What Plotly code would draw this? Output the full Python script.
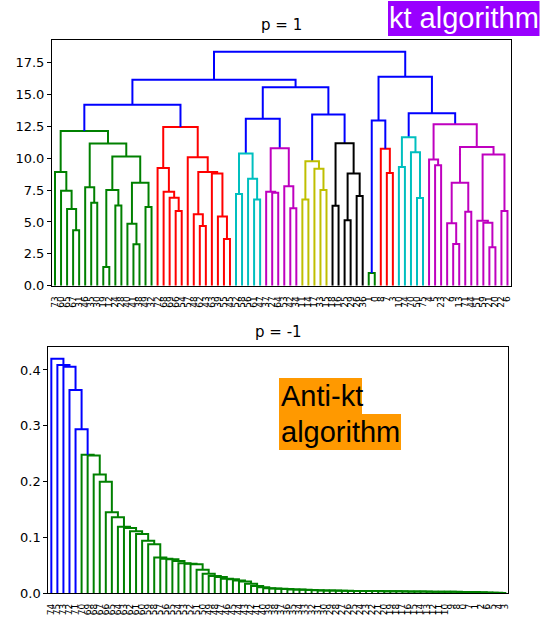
import plotly.graph_objects as go

# ---------------------------------------------------------------------------
# p = 1 (kt) clustering.  A merge is (height, left, right); a leaf is a particle id.
# ---------------------------------------------------------------------------
green_tree = (12.13,
              (8.93, 73, (7.45, 60, (6.02, 65, (4.35, 67, 31)))),
              (11.15, (7.73, 46, (6.51, 35, 30)),
               (10.13, (7.5, (1.46, 19, 12), (6.3, 24, 28)),
                (8.07, (4.87, 40, (3.26, 41, 38)), (6.17, 49, 32)))))
red_tree = (12.45,
            (9.24, 72, (7.37, 68, (6.9, 69, (5.86, 66, 54)))),
            (10.08, 57, (8.93, (5.6, 48, (4.69, 62, 43)),
                         (8.8, 63, (5.42, 39, (3.67, 55, 45))))))
cyan_tree = (10.37, (7.19, 52, 58), (8.39, 56, (6.77, 61, 47)))
magenta_tree = (10.78, (7.37, 37, (7.3, 27, 64)), (7.81, 53, (6.07, 42, 34)))
yellow_tree = (9.77, (6.77, 11, 14), (9.17, 17, (7.5, 33, 15)))
black_tree = (11.17, (6.28, 18, 16), (8.8, (5.13, 25, 29), (7.03, 26, 36)))
green_pair = (0.99, 1, 0)
red_tree_2 = (10.75, 8, (8.85, 7, 3))
cyan_tree_2 = (11.64, (9.32, 10, 74), (10.47, 70, (6.88, 50, 75)))
magenta_tree_2 = (12.66, (9.9, 4, (9.45, 5, 23)),
                  (10.88, (8.07, (4.9, 2, (3.28, 9, 13)), (5.8, 71, 44)),
                   (10.29, (5.1, 51, (4.94, 59, (3.02, 21, 20))), (5.86, 22, 6))))

# flat clusters and their link colours
kt_clusters = {
    "g1": (green_tree, "#008000"),
    "r1": (red_tree, "#ff0000"),
    "c1": (cyan_tree, "#00bfbf"),
    "m1": (magenta_tree, "#bf00bf"),
    "y1": (yellow_tree, "#bfbf00"),
    "k1": (black_tree, "#000000"),
    "g2": (green_pair, "#008000"),
    "r2": (red_tree_2, "#ff0000"),
    "c2": (cyan_tree_2, "#00bfbf"),
    "m2": (magenta_tree_2, "#bf00bf"),
}
# merges above the colour threshold
kt_upper = (18.36,
            (16.15, (14.2, "g1", "r1"), (15.57, (13.1, "c1", "m1"), (13.44, "y1", "k1"))),
            (16.4, (12.97, "g2", "r2"), (13.54, "c2", "m2")))
KT_YTICKS = [0.0, 2.5, 5.0, 7.5, 10.0, 12.5, 15.0, 17.5]

# ---------------------------------------------------------------------------
# p = -1 (anti-kt) clustering: one long chain, leaf i joins everything to its right
# ---------------------------------------------------------------------------
antikt_labels = [74, 75, 73, 72, 71, 70, 69, 68, 67, 66, 65, 64, 63, 62, 61, 60, 59, 58,
                 57, 56, 55, 54, 53, 52, 51, 50, 49, 48, 47, 46, 45, 44, 43, 42, 41, 40,
                 39, 38, 37, 36, 35, 34, 33, 32, 31, 30, 29, 28, 27, 26, 25, 24, 23, 22,
                 21, 20, 19, 18, 17, 16, 15, 14, 13, 12, 11, 10, 9, 8, 0, 7, 1, 2, 6, 5, 4, 3]
antikt_heights = [0.420, 0.409, 0.406, 0.364, 0.294, 0.248, 0.247, 0.213, 0.200, 0.145,
                  0.136, 0.119, 0.117, 0.111, 0.106, 0.094, 0.088, 0.064, 0.062, 0.061,
                  0.058, 0.054, 0.053, 0.052, 0.042, 0.035, 0.031, 0.029, 0.026, 0.025,
                  0.023, 0.021, 0.017, 0.013, 0.011, 0.009, 0.0085, 0.0080, 0.0075, 0.0070,
                  0.0066, 0.0062, 0.0058, 0.0055, 0.0052, 0.0050, 0.0048, 0.0046, 0.0045,
                  0.0043, 0.0042, 0.0041, 0.0040, 0.0039, 0.0038, 0.0037, 0.0036, 0.0035,
                  0.0034, 0.0033, 0.0032, 0.0031, 0.0030, 0.0029, 0.0028, 0.0027, 0.0026,
                  0.0025, 0.0024, 0.0022, 0.0020, 0.0016, 0.0012, 0.0008, 0.0004]
ANTIKT_THRESHOLD = 0.28
ANTIKT_YTICKS = [0.0, 0.1, 0.2, 0.3, 0.4]

ABOVE_COLOR = "#0000ff"
LINE_W = 2


def layout_tree(node, color, leaves, segs, clusters=None):
    """Place a merge tree scipy-style: leaves at 5, 15, 25, ... and each merge
    centred over its children.  Returns (x, height)."""
    if isinstance(node, str):
        sub, col = clusters[node]
        return layout_tree(sub, col, leaves, segs, clusters)
    if not isinstance(node, tuple):
        leaves.append(node)
        return 5 + 10 * (len(leaves) - 1), 0.0
    h, left, right = node
    xl, hl = layout_tree(left, color, leaves, segs, clusters)
    xr, hr = layout_tree(right, color, leaves, segs, clusters)
    segs.setdefault(color, []).append(([xl, xl, xr, xr], [hl, h, h, hr]))
    return (xl + xr) / 2, h


def add_links(fig, segs, xa, ya):
    for color, items in segs.items():
        xs, ys = [], []
        for sx, sy in items:
            xs += sx + [None]
            ys += sy + [None]
        fig.add_trace(go.Scatter(x=xs, y=ys, mode="lines", xaxis=xa, yaxis=ya,
                                 line=dict(color=color, width=LINE_W),
                                 hoverinfo="skip", showlegend=False))


fig = go.Figure()

# kt dendrogram
kt_leaves, kt_segs = [], {}
layout_tree(kt_upper, ABOVE_COLOR, kt_leaves, kt_segs, kt_clusters)
add_links(fig, kt_segs, "x", "y")

# anti-kt dendrogram (chain built from the merge heights)
chain = (antikt_heights[-1], antikt_labels[-2], antikt_labels[-1])
for i in range(len(antikt_heights) - 2, -1, -1):
    chain = (antikt_heights[i], antikt_labels[i], chain)


def layout_chain(node, leaves, segs):
    if not isinstance(node, tuple):
        leaves.append(node)
        return 5 + 10 * (len(leaves) - 1), 0.0
    h, left, right = node
    xl, hl = layout_chain(left, leaves, segs)
    xr, hr = layout_chain(right, leaves, segs)
    col = ABOVE_COLOR if h >= ANTIKT_THRESHOLD else "#008000"
    segs.setdefault(col, []).append(([xl, xl, xr, xr], [hl, h, h, hr]))
    return (xl + xr) / 2, h


ak_leaves, ak_segs = [], {}
layout_chain(chain, ak_leaves, ak_segs)
add_links(fig, ak_segs, "x2", "y2")

W, H = 541, 620


def px(x):
    return x / W


def py(y):
    return 1 - y / H


axis_common = dict(showline=True, mirror=True, linecolor="#000000", linewidth=1,
                   showgrid=False, zeroline=False, fixedrange=True, automargin=False)
tick_font = dict(family="DejaVu Sans", size=13, color="#000000")
leaf_font = dict(family="DejaVu Sans", size=9, color="#000000")

fig.update_layout(
    width=W, height=H,
    margin=dict(l=0, r=0, t=0, b=0),
    paper_bgcolor="#ffffff", plot_bgcolor="#ffffff",
    showlegend=False,
    xaxis=dict(domain=[px(52), px(510.5)], range=[0, 10 * len(kt_leaves)], anchor="y",
               tickmode="array", tickvals=[5 + 10 * i for i in range(len(kt_leaves))],
               ticktext=[str(v) for v in kt_leaves], tickangle=-90, ticks="",
               ticklabelstandoff=6, tickfont=leaf_font, **axis_common),
    yaxis=dict(domain=[py(285.7), py(40)], range=[0, kt_upper[0] * 1.05], anchor="x",
               tickmode="array", tickvals=KT_YTICKS, ticktext=[f"{v:.1f}" for v in KT_YTICKS],
               ticks="outside", ticklen=4, tickcolor="#000000", tickfont=tick_font,
               **axis_common),
    xaxis2=dict(domain=[px(48.3), px(508.3)], range=[0, 10 * len(ak_leaves)], anchor="y2",
                tickmode="array", tickvals=[5 + 10 * i for i in range(len(ak_leaves))],
                ticktext=[str(v) for v in ak_leaves], tickangle=-90, ticks="",
                ticklabelstandoff=6, tickfont=leaf_font, **axis_common),
    yaxis2=dict(domain=[py(593.3), py(347.1)], range=[0, max(antikt_heights) * 1.05],
                anchor="x2", tickmode="array", tickvals=ANTIKT_YTICKS,
                ticktext=[f"{v:.1f}" for v in ANTIKT_YTICKS], ticks="outside", ticklen=4,
                tickcolor="#000000", tickfont=tick_font, **axis_common),
)

title_font = dict(family="DejaVu Sans", size=15, color="#000000")
slide_font = "Liberation Sans, Arial, sans-serif"

fig.update_layout(
    shapes=[
        dict(type="rect", xref="paper", yref="paper", x0=px(388), x1=px(539.5),
             y0=py(36), y1=py(1), fillcolor="#9900ff", line=dict(width=0), layer="above"),
        dict(type="rect", xref="paper", yref="paper", x0=px(279), x1=px(362),
             y0=py(414), y1=py(378), fillcolor="#ff9900", line=dict(width=0), layer="above"),
        dict(type="rect", xref="paper", yref="paper", x0=px(279), x1=px(401),
             y0=py(450), y1=py(414), fillcolor="#ff9900", line=dict(width=0), layer="above"),
    ],
    annotations=[
        dict(text="p = 1", xref="paper", yref="paper", x=px(281), y=py(25),
             xanchor="center", yanchor="middle", showarrow=False, font=title_font),
        dict(text="p = -1", xref="paper", yref="paper", x=px(278), y=py(332),
             xanchor="center", yanchor="middle", showarrow=False, font=title_font),
        dict(text="kt algorithm", xref="paper", yref="paper", x=px(463.5), y=py(18.5),
             xanchor="center", yanchor="middle", showarrow=False,
             font=dict(family=slide_font, size=29, color="#ffffff")),
        dict(text="Anti-kt", xref="paper", yref="paper", x=px(279), y=py(396),
             xanchor="left", yanchor="middle", showarrow=False,
             font=dict(family=slide_font, size=29, color="#000000")),
        dict(text="algorithm", xref="paper", yref="paper", x=px(279), y=py(432),
             xanchor="left", yanchor="middle", showarrow=False,
             font=dict(family=slide_font, size=29, color="#000000")),
    ],
)

fig.write_html("out.html")
